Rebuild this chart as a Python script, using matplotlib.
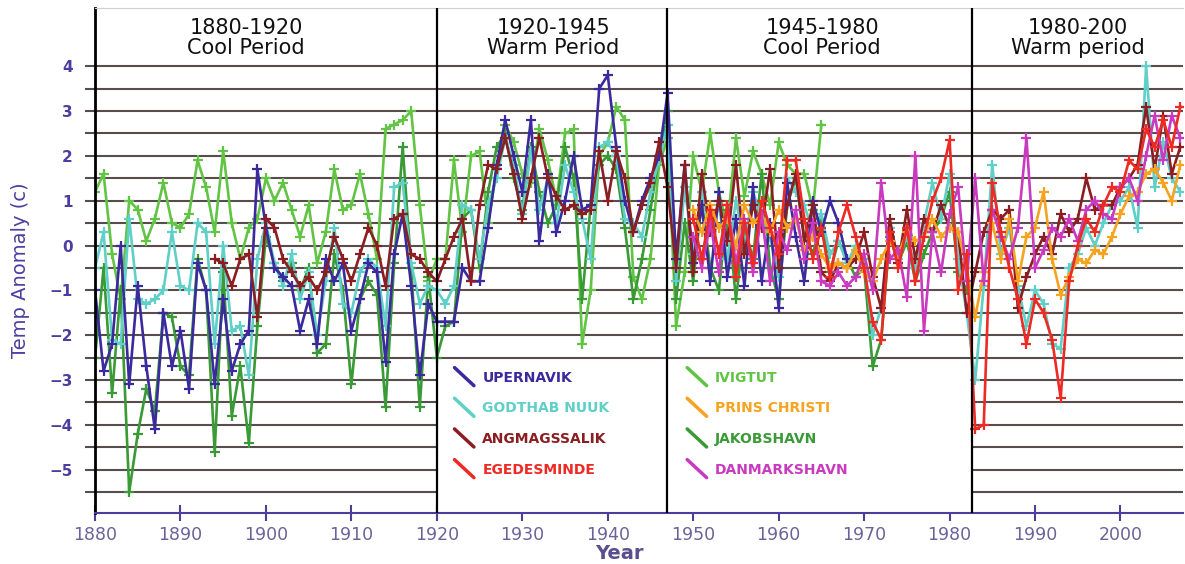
import matplotlib
matplotlib.use("Agg")
import matplotlib.pyplot as plt
import numpy as np
from matplotlib.patches import Rectangle
from matplotlib.lines import Line2D
from matplotlib.legend_handler import HandlerLine2D

# station anomaly series (deg C), each with its first year
upernavik_start = 1880
upernavik = [-1.0, -2.8, -2.2, 0.0, -3.1, -0.9, -2.7, -4.1, -1.5, -2.7,
             -1.9, -3.2, -0.4, -1.0, -3.1, -1.2, -2.8, -2.2, -1.9, 1.7,
             0.4, -0.5, -0.7, -0.9, -1.9, -1.2, -2.2, -0.3, -0.8, -0.4,
             -1.9, -1.2, -0.4, -0.6, -2.6, -0.2, 0.7, -0.9, -2.9, -1.3,
             -1.7, -1.7, -1.7, -0.5, -0.8, -0.8, 0.4, 1.8, 2.8, 2.0,
             1.2, 2.8, 0.1, 1.6, 0.3, 1.0, 2.0, 0.8, 0.9, 3.5,
             3.8, 2.2, 1.0, 0.3, 1.0, 1.5, 2.0, 3.4, -0.3, 1.8,
             -0.4, 0.9, -0.8, 1.2, -0.7, 0.6, -0.9, 1.3, -0.8, 0.5,
             -1.4, 1.4, 0.2, -0.8, 1.0, 0.3, 1.0, 0.5, -0.3]

godthab_start = 1880
godthab = [-0.5, 0.3, -2.1, -2.2, 0.6, -1.2, -1.3, -1.2, -1.0, 0.3,
           -0.9, -1.0, 0.5, 0.3, -2.2, 0.0, -1.9, -1.8, -2.9, -0.3,
           0.5, -0.4, -0.9, -0.2, -1.2, -0.6, -2.0, -0.8, 0.4, -1.3,
           -1.5, -0.6, -0.3, -0.5, -1.8, 1.3, 1.4, -0.4, -1.3, -0.9,
           -1.0, -1.3, -0.9, 0.9, 0.8, -0.3, 0.9, 1.5, 2.4, 1.8,
           0.7, 2.1, 0.8, 1.5, 0.5, 1.8, 1.2, 0.6, -0.3, 2.2,
           2.3, 2.0, 0.6, 0.5, 0.2, 1.2, 1.9, 2.7, -0.8, 1.3,
           -0.2, 1.2, 0.3, 0.9, -0.3, 1.0, 0.0, 1.2, 0.6, 0.2,
           -0.7, 1.5, 1.2, 0.9, 0.3, 0.7, -0.2, 0.1, -0.4, 0.0,
           -0.3, -2.0, -1.4, 0.4, -0.3, 0.2, -0.5, 0.5, 1.4, 0.6,
           1.6, -0.3, -1.5, -3.0, -0.9, 1.8, -0.2, 0.4, -0.9, -1.8,
           -1.0, -1.3, -2.2, -2.3, -0.5, -0.2, 0.4, 0.0, 0.5, 0.9,
           1.0, 1.3, 0.4, 4.0, 1.3, 2.3, 1.5, 1.2]

angmagssalik_start = 1894
angmagssalik = [-0.3, -0.4, -0.9, -0.3, -0.2, -1.6,
                0.6, 0.4, -0.3, -0.6, -0.9, -0.7, -1.0, -0.6, 0.2, -0.3,
                -0.8, -0.2, 0.4, 0.0, -0.9, 0.6, 0.7, -0.2, -0.3, -0.6,
                -0.8, -0.3, 0.2, 0.6, -0.8, 0.9, 1.8, 1.7, 2.4, 1.6,
                0.6, 1.5, 2.4, 1.5, 1.1, 0.8, 0.9, 0.7, 0.8, 2.1,
                1.0, 2.1, 1.5, 0.3, 0.9, 1.4, 2.3, 1.3, -0.5, 1.8,
                -0.6, 1.6, 0.3, 1.0, 0.1, 1.8, -0.2, 0.9, 0.4, 1.7,
                -0.5, 0.9, 1.6, 0.1, 0.9, -0.6, -0.8, -0.4, -0.5, -0.3,
                0.3, -0.7, -1.4, 0.6, -0.4, 0.8, -0.3, 0.6, 0.3, 0.9,
                0.4, 0.3, -1.5, -0.6, 0.3, 0.8, 0.6, 0.8, -1.4, -0.7,
                -0.2, 0.2, -0.2, 0.7, 0.3, 0.6, 1.5, 0.8, 0.9, 0.9,
                1.3, 1.5, 1.8, 3.1, 1.7, 2.9, 1.6, 2.2]

egedesminde_start = 1950
egedesminde = [0.6, -0.3, 0.8, -0.2, 0.9, -0.7, 0.5, -0.4, 1.0, 0.4,
               -0.2, 1.9, 1.9, 0.6, -0.3, 0.4, -0.7, 0.3, 0.9, 0.2,
               -0.5, -1.7, -2.1, 0.3, -0.5, 0.4, -0.8, 0.2, 1.0, 1.5,
               2.35, -1.0, -0.2, -4.1, -4.0, 1.4, 0.3, -0.5, -1.2, -2.2,
               -1.2, -1.5, -2.1, -3.4, -0.8, 0.0, 0.6, 0.3, 0.9, 1.3,
               1.2, 1.9, 1.7, 2.6, 2.2, 2.8, 2.2, 3.1]

ivigtut_start = 1880
ivigtut = [1.2, 1.6, -0.2, -1.2, 1.0, 0.8, 0.1, 0.6, 1.4, 0.5,
           0.4, 0.7, 1.9, 1.3, 0.3, 2.1, 0.5, -0.3, 0.4, 0.6,
           1.5, 1.0, 1.4, 0.8, 0.2, 0.9, -0.4, 0.3, 1.7, 0.8,
           0.9, 1.6, 0.7, -0.3, 2.6, 2.7, 2.8, 3.0, 0.9, -0.8,
           -0.3, -0.3, 1.9, 0.3, 2.0, 2.1, 0.5, 1.7, 2.7, 2.3,
           1.6, 1.4, 2.6, 1.9, 1.0, 2.5, 2.6, -2.2, -1.0, 2.0,
           2.3, 3.1, 2.8, -0.7, -1.2, -0.3, 1.8, 2.4, -1.8, -0.6,
           2.0, 1.2, 2.5, 1.2, 0.4, 2.4, 1.1, 2.1, 1.6, 0.9,
           2.3, 1.8, 1.6, 1.6, 0.8, 2.7]

prins_start = 1950
prins = [0.8, 0.3, 0.9, 0.4, 0.6, 0.0, 0.9, 0.5, 0.7, 0.3,
         0.8, 0.4, 0.6, -0.1, 0.2, -0.2, -0.5, -0.4, -0.5, -0.1,
         -0.6, -0.8, -0.3, 0.1, -0.2, 0.3, 0.1, 0.2, 0.6, 0.2,
         0.4, 0.3, -0.5, -1.6, -0.6, 0.5, -0.3, 0.6, -0.8, 0.2,
         0.4, 1.2, -0.3, -1.1, -0.7, -0.3, -0.4, -0.1, -0.2, 0.2,
         0.7, 1.1, 1.2, 1.6, 1.7, 1.4, 1.0, 1.8]

jakobshavn_start = 1880
jakobshavn = [-2.5, -0.5, -3.3, -1.0, -5.5, -4.2, -3.2, -3.7, -1.5, -1.6,
              -2.7, -2.9, -0.3, -1.0, -4.6, -0.6, -3.8, -2.7, -4.4, -1.8,
              0.2, -0.4, -0.8, -0.4, -1.0, -0.5, -2.4, -2.2, -0.2, -1.0,
              -3.1, -1.2, -0.8, -1.1, -3.6, -0.4, 2.2, -0.5, -3.6, -0.7,
              -2.5, -1.8, -1.7, 0.6, 0.8, -0.5, 1.2, 2.2, 2.5, 1.5,
              0.8, 2.2, 1.2, 0.5, 0.9, 2.2, 1.5, -1.2, 0.9, 1.8,
              2.0, 1.7, 0.4, -1.2, -0.3, 0.8, 2.0, 3.0, -1.2, 0.5,
              -0.8, 1.0, -0.5, -1.0, 0.8, -1.2, 0.4, -0.3, 1.6, -0.5,
              -1.2, 0.9, 1.5, 0.2, -0.2, 0.6, -0.6, 0.1, -0.3, -0.7,
              -0.5, -2.7, -2.1, 0.2, -0.4, 0.1, -0.8, -0.2, 0.3, 0.6,
              1.2, -0.6, -1.0]

danmark_start = 1950
danmark = [0.2, -0.5, 0.5, -0.6, 0.9, -0.4, 0.6, -0.6, 0.7, -0.8,
           0.3, -0.1, 0.8, -0.3, 0.5, -0.8, -0.9, -0.6, -0.9, -0.7,
           -0.2, -1.0, 1.4, -0.3, -0.1, -1.15, 2.0, -1.9, 0.3, -0.6,
           0.7, 1.3, -0.8, 1.5, -0.8, 0.8, 0.2, -0.3, 0.4, 2.4,
           -0.5, -0.1, 0.4, 0.2, 0.6, 0.1, 0.8, 1.0, 0.7, 0.6,
           1.3, 1.5, 1.0, 2.0, 2.9, 1.9, 2.9, 2.4]

# period boundaries and labels
period_edges = [1920, 1946.9, 1982.6]
period_labels = ["1880-1920\nCool Period", "1920-1945\nWarm Period",
                 "1945-1980\nCool Period", "1980-200\nWarm period"]
period_centers = [1897.7, 1933.6, 1965.1, 1995.0]

series = [
    ("IVIGTUT", ivigtut_start, ivigtut, "#62c444"),
    ("JAKOBSHAVN", jakobshavn_start, jakobshavn, "#3a9a36"),
    ("GODTHAB NUUK", godthab_start, godthab, "#5fcfc8"),
    ("UPERNAVIK", upernavik_start, upernavik, "#3b2a9e"),
    ("ANGMAGSSALIK", angmagssalik_start, angmagssalik, "#8a1e22"),
    ("PRINS CHRISTI", prins_start, prins, "#f5a320"),
    ("DANMARKSHAVN", danmark_start, danmark, "#c93ac0"),
    ("EGEDESMINDE", egedesminde_start, egedesminde, "#ee2a24"),
]
legend_order = ["UPERNAVIK", "GODTHAB NUUK", "ANGMAGSSALIK", "EGEDESMINDE",
                "IVIGTUT", "PRINS CHRISTI", "JAKOBSHAVN", "DANMARKSHAVN"]


class DiagHandler(HandlerLine2D):
    # short slanted stroke like the original key
    def create_artists(self, legend, orig_handle, xdescent, ydescent,
                       width, height, fontsize, trans):
        ln = Line2D([-xdescent, -xdescent + width],
                    [height - ydescent + 3, -ydescent - 3],
                    color=orig_handle.get_color(), lw=2.5,
                    solid_capstyle="round")
        ln.set_transform(trans)
        return [ln]


plt.rcParams["font.family"] = "DejaVu Sans"
fig = plt.figure(figsize=(11.85, 5.64), dpi=100)
ax = fig.add_axes([0.0802, 0.0904, 0.918, 0.8954])

lines = {}
for name, start, vals, col in series:
    yrs = np.arange(start, start + len(vals))
    ln, = ax.plot(yrs, vals, color=col, lw=1.9, marker="+", ms=7, mew=1.6,
                  zorder=2, label=name)
    lines[name] = ln

ax.set_xlim(1880, 2007.3)
ax.set_ylim(-5.97, 5.3)

# horizontal rules every half degree
ax.set_yticks(np.arange(-5, 5, 1))
ax.set_yticks(np.arange(-5.5, 4.5, 1), minor=True)
ax.set_axisbelow(True)
ax.grid(axis="y", which="both", color="#574d4d", lw=1.5)
ax.tick_params(axis="y", which="both", length=7, width=1.5, color="#574d4d",
               pad=9, labelsize=11, labelcolor="#4a3fa0")
for t in ax.get_yticklabels():
    t.set_fontweight("bold")

ax.set_xticks(np.arange(1880, 2001, 10))
ax.tick_params(axis="x", direction="inout", length=11, width=1.5,
               color="#4b3f9a", pad=4, labelsize=12.5, labelcolor="#6a6399")

ax.spines["right"].set_visible(False)
ax.spines["top"].set_color("#d0d0d0")
ax.spines["left"].set_color("black")
ax.spines["left"].set_linewidth(2)
ax.spines["bottom"].set_color("#4b3f9a")
ax.spines["bottom"].set_linewidth(1.5)

for xe in period_edges:
    ax.axvline(xe, color="black", lw=1.6, zorder=3)
for xc, lab in zip(period_centers, period_labels):
    ax.text(xc, 0.941, lab, transform=ax.get_xaxis_transform(), ha="center",
            va="center", fontsize=15, linespacing=1.0, color="#111111")

# blank panel behind the key
ax.add_patch(Rectangle((period_edges[0], -5.96), period_edges[2] - period_edges[0],
                       3.36, facecolor="white", edgecolor="none", zorder=1.5))

ax.set_ylabel("Temp Anomaly (c)", fontsize=14, color="#4b3fa0")
ax.yaxis.set_label_coords(-0.06, 0.481)
ax.set_xlabel("Year", fontsize=14, color="#5a5090", fontweight="bold",
              va="bottom")
ax.xaxis.set_label_coords(0.4825, -0.099)

fig.legend([lines[n] for n in legend_order], legend_order, ncol=2,
           loc="upper left", bbox_to_anchor=(442 / 1185, 1 - 358 / 564),
           frameon=False, handler_map={Line2D: DiagHandler()},
           prop={"weight": "bold", "size": 10}, labelcolor="linecolor",
           handlelength=1.4, handletextpad=0.6, labelspacing=1.2,
           columnspacing=5.6)

fig.savefig("out.png", dpi=100, facecolor="white")
